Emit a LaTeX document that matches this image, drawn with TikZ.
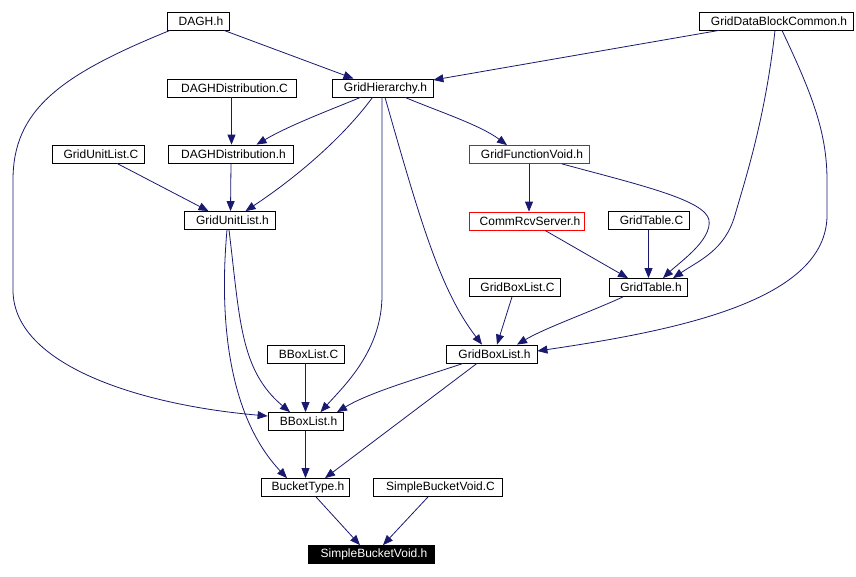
\documentclass[tikz,border=0pt]{standalone}
\usepackage{fontspec}
\setmainfont{Liberation Sans}
\usetikzlibrary{arrows.meta}
\definecolor{edgeblue}{HTML}{191970}
\tikzset{
  fbox/.style={draw=black, line width=0.8pt, rectangle, inner sep=0pt,
    minimum height=18pt, font=\fontsize{12pt}{14pt}\selectfont,
    execute at begin node={\hspace*{6pt}}},
  redbox/.style={fbox, draw=red, line width=0.8pt},
  rootbox/.style={fbox, fill=black, text=white},
  dep/.style={draw=edgeblue, line width=0.8pt,
    -{Triangle[length=10pt,width=8pt]}},
}
\begin{document}
\begin{tikzpicture}[x=1pt,y=-1pt]
\useasboundingbox[fill=white] (0,0) rectangle (856,576);
% nodes
\node[fbox, minimum width=62pt] (dagh) at (198,21) {DAGH.h};
\node[fbox, minimum width=154pt] (gdbc) at (776,21) {GridDataBlockCommon.h};
\node[fbox, minimum width=101pt] (gh) at (382.5,88) {GridHierarchy.h};
\node[fbox, minimum width=129pt] (ddc) at (231.5,88) {DAGHDistribution.C};
\node[fbox, minimum width=92pt] (gulc) at (98,154) {GridUnitList.C};
\node[fbox, minimum width=125pt] (ddh) at (230.5,154) {DAGHDistribution.h};
\node[redbox, minimum width=120pt] (gfv) at (529,154.5) {GridFunctionVoid.h};
\node[fbox, minimum width=91pt] (gulh) at (229.5,220.5) {GridUnitList.h};
\node[redbox, minimum width=115pt] (crs) at (527,221) {CommRcvServer.h};
\node[fbox, minimum width=81pt] (gtc) at (648.5,220.5) {GridTable.C};
\node[fbox, minimum width=91pt] (gblc) at (514.5,287.5) {GridBoxList.C};
\node[fbox, minimum width=78pt] (gth) at (648,287.5) {GridTable.h};
\node[fbox, minimum width=77pt] (bblc) at (305.5,354) {BBoxList.C};
\node[fbox, minimum width=91pt] (gblh) at (491.5,354) {GridBoxList.h};
\node[fbox, minimum width=75pt] (bblh) at (305.5,421.5) {BBoxList.h};
\node[fbox, minimum width=88pt] (bth) at (305,487.5) {BucketType.h};
\node[fbox, minimum width=129pt] (sbvc) at (437.5,487.5) {SimpleBucketVoid.C};
\node[rootbox, minimum width=126pt] (sbvh) at (371,554.5) {SimpleBucketVoid.h};
% edges
\draw[dep] ([xshift=26pt]dagh.south) -- ([xshift=-29pt]gh.north);
\draw[dep] ([xshift=-28pt]dagh.south) .. controls (60,75) and (13,110) .. (13,180)
  -- (13,290) .. controls (13,365) and (140,405) .. ([yshift=5.5pt]bblh.west);
\draw[dep] ([xshift=-57pt]gdbc.south) -- ([yshift=8pt]gh.east);
\draw[dep] ([xshift=-1pt]gdbc.south) .. controls (765,120) and (745,180) .. (735,215)
  .. controls (725,250) and (700,260) .. ([xshift=25pt]gth.north);
\draw[dep] ([xshift=6pt]gdbc.south) .. controls (810,90) and (827,130) .. (827,180)
  -- (827,215) .. controls (827,300) and (680,330) .. ([yshift=3pt]gblh.east);
\draw[dep] (ddc.south) -- (ddc.south |- ddh.north);
\draw[dep] ([xshift=-22pt]gh.south) .. controls (330,110) and (290,125) .. ([xshift=26pt]ddh.north);
\draw[dep] ([xshift=-10pt]gh.south) .. controls (345,135) and (300,175) .. ([xshift=16pt]gulh.north);
\draw[dep] ([xshift=-0.5pt]gh.south) -- (382,295) .. controls (382,350) and (345,385) .. ([xshift=15pt]bblh.north);
\draw[dep] ([xshift=2.5pt]gh.south) .. controls (420,220) and (440,290) .. ([xshift=-9.5pt]gblh.north);
\draw[dep] ([xshift=22.5pt]gh.south) .. controls (440,112) and (480,125) .. ([xshift=-22pt]gfv.north);
\draw[dep] ([xshift=19pt]gulc.south) -- ([xshift=-21pt]gulh.north);
\draw[dep] ([xshift=0.5pt]ddh.south) -- ([xshift=1pt]gulh.north);
\draw[dep] ([xshift=-0.5pt]gulh.south) .. controls (240,320) and (240,370) .. ([xshift=-15.5pt]bblh.north);
\draw[dep] ([xshift=-2.5pt]gulh.south) .. controls (218,330) and (232,420) .. ([xshift=-18pt]bth.north);
\draw[dep] (gfv.south) -- ([xshift=2pt]crs.north);
\draw[dep] ([xshift=33pt]gfv.south) .. controls (640,185) and (705,200) .. (709,220)
  .. controls (712,240) and (680,262) .. ([xshift=15pt]gth.north);
\draw[dep] ([xshift=18pt]crs.south) -- ([xshift=-20pt]gth.north);
\draw[dep] (gtc.south) -- (gtc.south |- gth.north);
\draw[dep] ([xshift=-2.5pt]gblc.south) -- ([xshift=5.5pt]gblh.north);
\draw[dep] ([xshift=-25pt]gth.south) .. controls (590,312) and (545,328) .. ([xshift=25.5pt]gblh.north);
\draw[dep] (bblc.south) -- (bblh.north);
\draw[dep] ([xshift=-28.5pt]gblh.south) .. controls (420,378) and (370,392) .. ([xshift=31.5pt]bblh.north);
\draw[dep] ([xshift=-14.5pt]gblh.south) -- ([xshift=20pt]bth.north);
\draw[dep] (bblh.south) -- (bblh.south |- bth.north);
\draw[dep] ([xshift=11pt]bth.south) -- ([xshift=-11pt]sbvh.north);
\draw[dep] ([xshift=-9.5pt]sbvc.south) -- ([xshift=12pt]sbvh.north);
\end{tikzpicture}
\end{document}
